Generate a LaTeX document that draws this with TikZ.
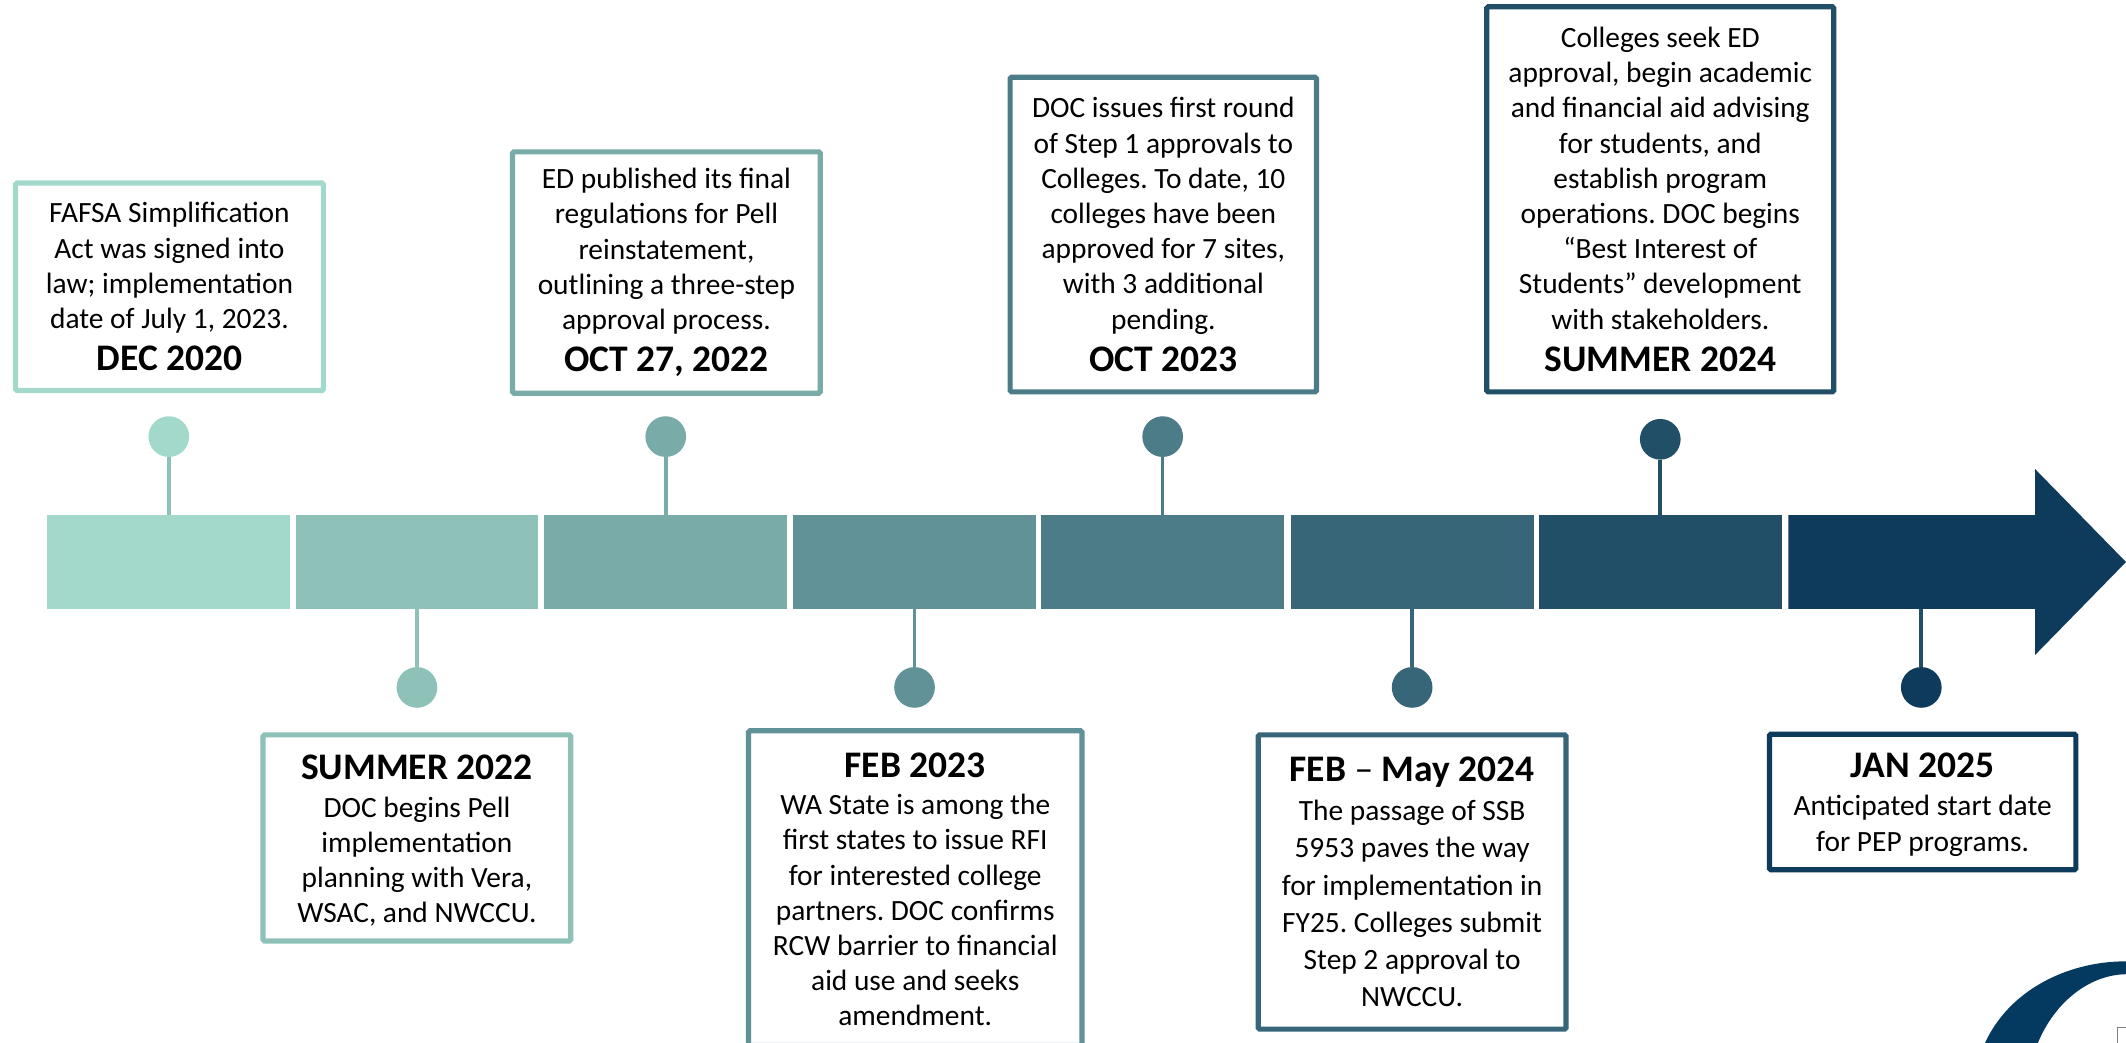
\documentclass[tikz,border=0pt]{standalone}
\usepackage{fontspec}
\setmainfont{Carlito}
\definecolor{c1}{HTML}{A2D9CB}
\definecolor{c2}{HTML}{8EC2B9}
\definecolor{c3}{HTML}{79ABA9}
\definecolor{c4}{HTML}{619297}
\definecolor{c5}{HTML}{4D7C89}
\definecolor{c6}{HTML}{386679}
\definecolor{c7}{HTML}{214F68}
\definecolor{c8}{HTML}{0E3A5C}
\definecolor{logoblue}{HTML}{053A60}
\newcommand{\hd}[1]{{\fontsize{37.5}{40}\selectfont\bfseries #1}}
\tikzset{
  seg/.style={fill=#1,draw=none,minimum width=242.7pt,minimum height=94.3pt,inner sep=0pt,outer sep=0pt},
  dot/.style={circle,fill=#1,draw=none,minimum size=40.7pt,inner sep=0pt,outer sep=0pt},
  stem/.style={draw=#1,line width=3.6pt},
  tbox/.style={draw=#1,fill=white,line width=5.2pt,rounded corners=1.5pt,inner sep=0pt,outer sep=0pt},
  ttext/.style={align=center,inner sep=0pt,outer sep=0pt,
    font=\fontsize{29.4}{35.2}\selectfont\frenchspacing,text=black}
}
\begin{document}
\begin{tikzpicture}[x=1.3559pt,y=-1.3559pt]
\useasboundingbox (0,0) rectangle (1568,769.2);
% bar segments
\node[seg=c1] (s1) at (124.5,414.5) {};
\node[seg=c2] (s2) at (307.5,414.5) {};
\node[seg=c3] (s3) at (491,414.5) {};
\node[seg=c4] (s4) at (674.5,414.5) {};
\node[seg=c5] (s5) at (857.5,414.5) {};
\node[seg=c6] (s6) at (1041.5,414.5) {};
\node[seg=c7] (s7) at (1224.5,414.5) {};
% arrow
\coordinate (s8top) at (1417,380);
\coordinate (s8bot) at (1417,449);
\fill[c8] (1319,380) -- (1501,380) -- (1501,346) -- (1568,414.5) -- (1501,483) -- (1501,449) -- (1319,449) -- cycle;
% dots
\node[dot=c1] (d1) at (124.5,322) {};
\node[dot=c2] (d2) at (307.5,507) {};
\node[dot=c3] (d3) at (491,322) {};
\node[dot=c4] (d4) at (674.5,507) {};
\node[dot=c5] (d5) at (857.5,322) {};
\node[dot=c6] (d6) at (1041.5,507) {};
\node[dot=c7] (d7) at (1224.5,324) {};
\node[dot=c8] (d8) at (1417,507) {};
% stems
\draw[stem=c2] (d1) -- (d1 |- s1.north);
\draw[stem=c2] (d2) -- (d2 |- s2.south);
\draw[stem=c3] (d3) -- (d3 |- s3.north);
\draw[stem=c4] (d4) -- (d4 |- s4.south);
\draw[stem=c5] (d5) -- (d5 |- s5.north);
\draw[stem=c6] (d6) -- (d6 |- s6.south);
\draw[stem=c7] (d7) -- (d7 |- s7.north);
\draw[stem=c7] (d8) -- (s8bot);
% text boxes
\node[tbox=c1,minimum width={227*1.3559pt},minimum height={153*1.3559pt}] (b1) at (125,211.5) {};
\node[ttext] (t1) at (b1) {FAFSA Simplification\\Act was signed into\\law; implementation\\date of July 1, 2023.\\[7pt]\hd{DEC 2020}};
\node[tbox=c2,minimum width={227*1.3559pt},minimum height={152*1.3559pt}] (b2) at (307.5,618) {};
\node[ttext,yshift=-2.7pt] (t2) at (b2) {\hd{SUMMER 2022}\\[3pt]DOC begins Pell\\implementation\\planning with Vera,\\WSAC, and NWCCU.};
\node[tbox=c3,minimum width={227*1.3559pt},minimum height={178*1.3559pt}] (b3) at (491.5,201) {};
\node[ttext] (t3) at (b3) {ED published its final\\regulations for Pell\\reinstatement,\\outlining a three-step\\approval process.\\[7pt]\hd{OCT 27, 2022}};
\node[tbox=c4,minimum width={246*1.3559pt},minimum height={232*1.3559pt}] (b4) at (675,655) {};
\node[ttext,yshift=-1.4pt] (t4) at (b4) {\hd{FEB 2023}\\[2pt]WA State is among the\\first states to issue RFI\\for interested college\\partners. DOC confirms\\RCW barrier to financial\\aid use and seeks\\amendment.};
\node[tbox=c5,minimum width={226*1.3559pt},minimum height={232*1.3559pt}] (b5) at (858,173) {};
\node[ttext] (t5) at (b5) {DOC issues first round\\of Step 1 approvals to\\Colleges. To date, 10\\colleges have been\\approved for 7 sites,\\with 3 additional\\pending.\\[7pt]\hd{OCT 2023}};
\node[tbox=c6,minimum width={227*1.3559pt},minimum height={217*1.3559pt}] (b6) at (1041.5,650.5) {};
\node[ttext] (t6) at (b6) {\hd{FEB {\mdseries–} May 2024}\\[4pt]The passage of SSB\\[2pt]5953 paves the way\\[2pt]for implementation in\\[2pt]FY25. Colleges submit\\[2pt]Step 2 approval to\\[2pt]NWCCU.};
\node[tbox=c7,minimum width={256*1.3559pt},minimum height={284*1.3559pt}] (b7) at (1224.5,147) {};
\node[ttext] (t7) at (b7) {Colleges seek ED\\approval, begin academic\\and financial aid advising\\for students, and\\establish program\\operations. DOC begins\\“Best Interest of\\Students” development\\with stakeholders.\\[7pt]\hd{SUMMER 2024}};
\node[tbox=c8,minimum width={226*1.3559pt},minimum height={100*1.3559pt}] (b8) at (1418,591.5) {};
\node[ttext,yshift=-2.7pt] (t8) at (b8) {\hd{JAN 2025}\\[3pt]Anticipated start date\\for PEP programs.};
% logo fragment
\fill[logoblue] (1464,769.2) .. controls (1482,730) and (1525,709) .. (1568,709) -- (1568,718.5) .. controls (1540,719) and (1515,740) .. (1503,769.2) -- cycle;
\draw[gray,line width=1pt] (1562,769.2) -- (1562,757.5) -- (1568,757.5);
\end{tikzpicture}
\end{document}
